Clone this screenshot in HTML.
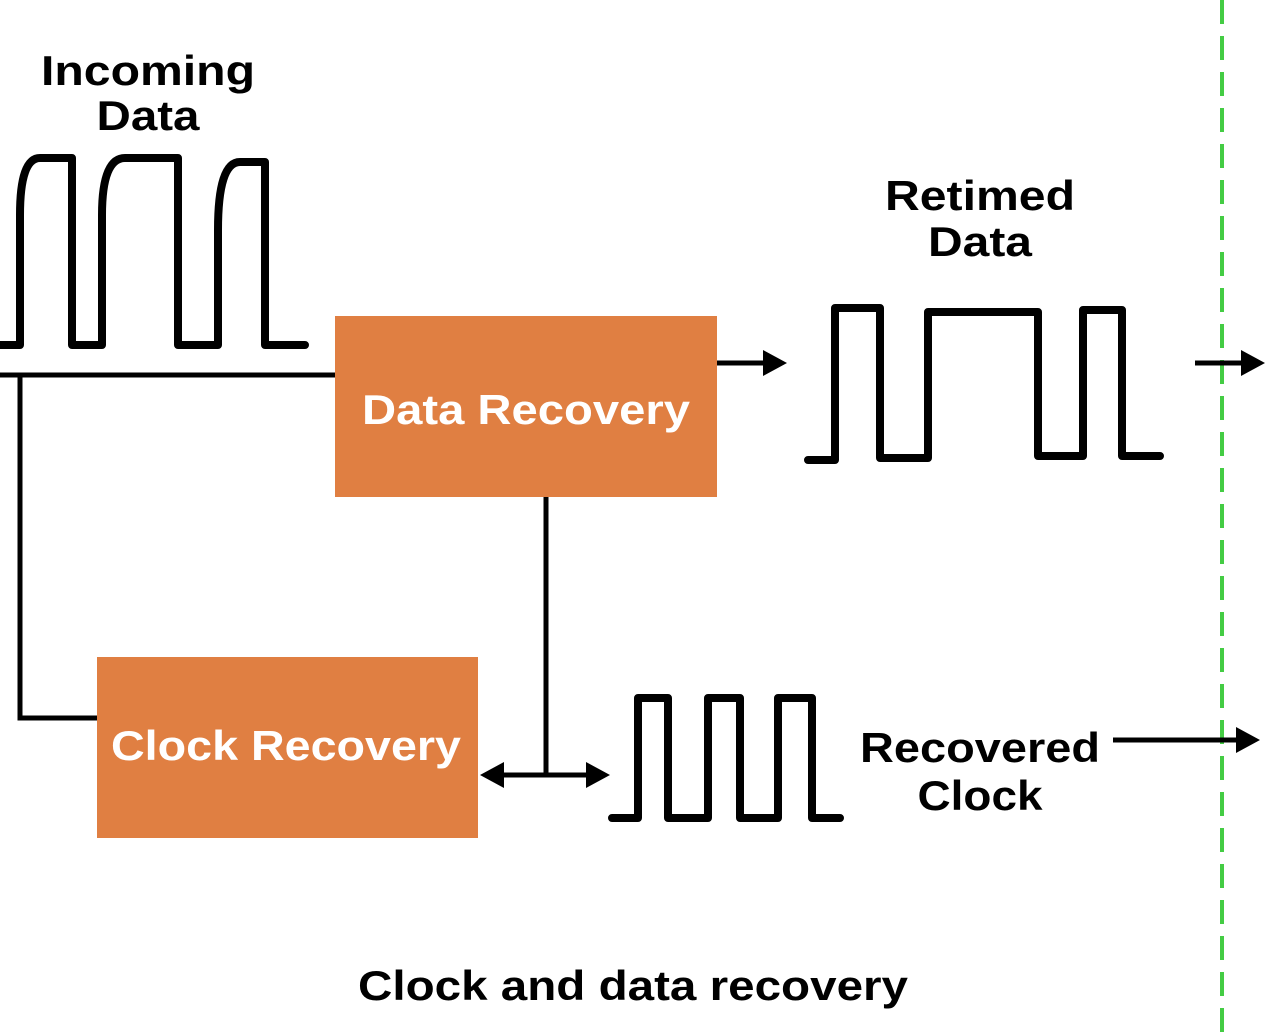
<!DOCTYPE html>
<html><head><meta charset="utf-8"><style>html,body{margin:0;padding:0;background:#fff}svg{display:block}</style></head>
<body>
<svg width="1280" height="1032" viewBox="0 0 1280 1032" xmlns="http://www.w3.org/2000/svg" font-family="Liberation Sans, sans-serif" font-weight="bold">
<line x1="1222" y1="0" x2="1222" y2="1032" stroke="#44cc44" stroke-width="4" stroke-dasharray="24 12"/>
<g fill="none" stroke="#000" stroke-width="8" stroke-linejoin="round" stroke-linecap="round">
<path d="M0,345 H20 V215 Q20,158 40,158 H72 V345 H102 V215 Q102,158 125,158 H178 V345 H218 V230 Q218,162 240,162 H265 V345 H305"/>
<path d="M808,460 H835 V308 H880 V458 H928 V312 H1038 V456 H1083 V310 H1122 V456 H1160"/>
<path d="M612,818 H638 V698 H668 V818 H708 V698 H740 V818 H778 V698 H812 V818 H840"/>
</g>
<g fill="none" stroke="#000" stroke-width="5">
<path d="M0,375 H335"/>
<path d="M20,375 V718 H97"/>
<path d="M546,497 V775"/>
</g>
<line x1="717" y1="363" x2="767" y2="363" stroke="#000" stroke-width="5"/>
<path d="M763,350 L787,363 L763,376 z"/>
<line x1="1195" y1="363" x2="1245" y2="363" stroke="#000" stroke-width="5"/>
<path d="M1241,350 L1265,363 L1241,376 z"/>
<line x1="1113" y1="740" x2="1240" y2="740" stroke="#000" stroke-width="5"/>
<path d="M1236,727 L1260,740 L1236,753 z"/>
<line x1="500" y1="775" x2="590" y2="775" stroke="#000" stroke-width="5"/>
<path d="M480,775 L504,762 L504,788 z"/>
<path d="M610,775 L586,762 L586,788 z"/>
<rect x="335" y="316" width="382" height="181" fill="#e07f42"/>
<rect x="97" y="657" width="381" height="181" fill="#e07f42"/>
<g font-size="42" fill="#fff" text-anchor="middle">
<text x="526" y="424" textLength="328" lengthAdjust="spacingAndGlyphs">Data Recovery</text>
<text x="286" y="760" textLength="350" lengthAdjust="spacingAndGlyphs">Clock Recovery</text>
</g>
<g font-size="42" fill="#000" text-anchor="middle">
<text x="148" y="85" textLength="214" lengthAdjust="spacingAndGlyphs">Incoming</text>
<text x="148" y="130" textLength="103" lengthAdjust="spacingAndGlyphs">Data</text>
<text x="980" y="210" textLength="190" lengthAdjust="spacingAndGlyphs">Retimed</text>
<text x="980" y="256" textLength="104" lengthAdjust="spacingAndGlyphs">Data</text>
<text x="980" y="762" textLength="240" lengthAdjust="spacingAndGlyphs">Recovered</text>
<text x="980" y="810" textLength="125" lengthAdjust="spacingAndGlyphs">Clock</text>
<text x="633" y="1000" textLength="550" lengthAdjust="spacingAndGlyphs">Clock and data recovery</text>
</g>
</svg>
</body></html>
